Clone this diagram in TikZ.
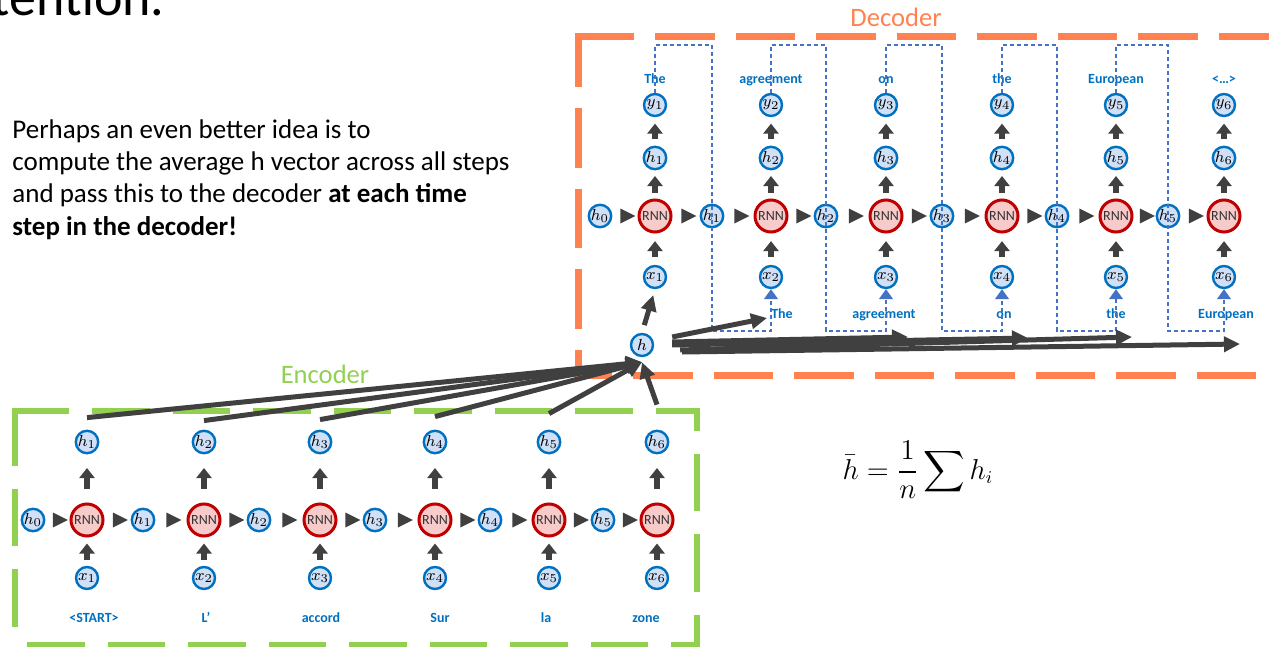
\documentclass[tikz,border=0pt]{standalone}
\usepackage{amsmath}
\usepackage{fontspec}
\setmainfont{Carlito}
\usepackage{xcolor}
\definecolor{bleuetat}{RGB}{0,112,192}
\definecolor{fondetat}{RGB}{208,224,246}
\definecolor{rougernn}{RGB}{192,0,0}
\definecolor{fondrnn}{RGB}{248,203,203}
\definecolor{grisfl}{RGB}{64,64,64}
\definecolor{orangedec}{RGB}{255,130,80}
\definecolor{vertenc}{RGB}{146,208,80}
\definecolor{bleuret}{RGB}{68,114,196}
\usepackage{tikz}
\usetikzlibrary{arrows.meta,positioning,shapes.geometric}

\begin{document}
\begin{tikzpicture}[x=0.5pt, y=-0.5pt,
      etat/.style={circle, draw=bleuetat, fill=fondetat, line width=1.2pt,
                   minimum size=11pt, inner sep=0pt, font=\fontsize{8}{9}\selectfont},
      rnn/.style={circle, draw=rougernn, fill=fondrnn, line width=1.5pt,
                  minimum size=16pt, inner sep=0pt, font=\fontsize{7}{8}\selectfont, text=black!80},
      lien/.style={-{Triangle[length=5pt,width=7.5pt]}, line width=3pt, color=grisfl,
                   shorten <=3pt, shorten >=3pt},
      pointe/.style={isosceles triangle, isosceles triangle stretches, minimum width=7.5pt,
                     minimum height=7.5pt, inner sep=0pt, fill=grisfl, sloped},
      gros/.style={-{Triangle[length=8pt,width=7.5pt]}, line width=2.5pt, color=grisfl},
      retour/.style={-{Triangle[length=5pt,width=7pt]}, dash pattern=on 2pt off 1.5pt,
                     line width=0.65pt, color=bleuret},
      mot/.style={font=\fontsize{7}{8}\selectfont\bfseries, text=bleuetat, inner sep=0pt},
      cadre/.style={line width=3.5pt, draw=orangedec, dash pattern=on 29.75pt off 10.5pt},
      cadreenc/.style={line width=3pt, draw=vertenc, dash pattern=on 28.75pt off 11.5pt},
      titreb/.style={font=\fontsize{13.3}{15}\selectfont, anchor=base}]
    \useasboundingbox (0,0) rectangle (1269,647);

    % titre et texte
    \node[anchor=base east, inner sep=0pt, font=\fontsize{27}{30}\selectfont] (titre) at (165,16) {Attention.};
    \node[anchor=north west, align=left, inner sep=0pt, font=\fontsize{13.5}{16.2}\selectfont] (texte) at (12,119)
      {Perhaps an even better idea is to\\
       compute the average h vector across all steps\\
       and pass this to the decoder \textbf{at each time}\\
       \textbf{step in the decoder!}};
    \node[font=\fontsize{13.3}{15}\selectfont] (moyenne) at (918,470) {$\displaystyle\bar{h}=\frac{1}{n}\sum h_i$};

    % cadres
    \draw[cadre] (574.5,37) -- (1300,37);
    \draw[cadre, dash phase=3pt] (578,33.5) -- (578,375);
    \draw[cadre, dash phase=11pt] (574.5,375) -- (1300,375);
    \node[titreb, text=orangedec] (dec) at (896,27) {Decoder};
    \draw[cadreenc] (11.5,411) -- (697,411);
    \draw[cadreenc] (15,408) -- (15,645);
    \draw[cadreenc, dash phase=17.5pt] (697,408) -- (697,645);
    \draw[cadreenc, dash phase=14.25pt] (700,645) -- (15,645);
    \node[titreb, text=vertenc] (enc) at (325,383) {Encoder};

    % encodeur
    \foreach \i/\x in {1/87,2/204,3/320,4/435,5/549,6/657} {
      \node[rnn]  (rnne\i) at (\x,520) {RNN};
      \node[etat] (he\i)   at (\x,442) {$h_{\i}$};
      \node[etat] (xe\i)   at (\x,578) {$x_{\i}$};
      \draw[lien] (xe\i) -- (rnne\i);
      \draw[lien, shorten <=7pt, shorten >=6.8pt] (rnne\i) -- (he\i);
    }
    \foreach \i/\x in {0/33,1/143,2/259,3/375,4/490,5/603}
      \node[etat] (hre\i) at (\x,520) {$h_{\i}$};
    \foreach \i [count=\j from 0] in {1,...,6}
      \path (hre\j) -- node[pointe] {} (rnne\i);
    \foreach \i in {1,...,5}
      \path (rnne\i) -- node[pointe] {} (hre\i);
    \foreach \i/\x/\m in {1/94/<START>,2/206/L’,3/321/accord,4/440/Sur,5/546/la,6/646/zone}
      \node[mot, anchor=base] (me\i) at (\x,622.5) {\m};

    % decodeur
    \foreach \i/\x in {1/655,2/771,3/886,4/1002,5/1116,6/1224} {
      \node[rnn]  (rnnd\i) at (\x,216) {RNN};
      \node[etat] (hd\i)   at (\x,158) {$h_{\i}$};
      \node[etat] (yd\i)   at (\x,105) {$y_{\i}$};
      \node[etat] (xd\i)   at (\x,277) {$x_{\i}$};
      \draw[lien, shorten <=3.8pt, shorten >=3.8pt] (xd\i) -- (rnnd\i);
      \draw[lien, shorten <=2.8pt, shorten >=2.8pt] (rnnd\i) -- (hd\i);
      \draw[lien, shorten <=3.2pt, shorten >=3.2pt] (hd\i) -- (yd\i);
    }
    \foreach \i/\x in {0/600,1/712,2/826,3/942,4/1057,5/1168}
      \node[etat] (hrd\i) at (\x,216) {$h_{\i}$};
    \foreach \i [count=\j from 0] in {1,...,6}
      \path (hrd\j) -- node[pointe] {} (rnnd\i);
    \foreach \i in {1,...,5}
      \path (rnnd\i) -- node[pointe] {} (hrd\i);
    \foreach \i/\m in {1/The,2/agreement,3/on,4/the,5/European,6/<…>}
      \node[mot, anchor=base] (mh\i) at (yd\i |- 0,84) {\m};
    \foreach \i/\x/\m in {2/782/The,3/884/agreement,4/1004/on,5/1116/the,6/1226/European}
      \node[mot, anchor=base] (mb\i) at (\x,318) {\m};

    % sortie -> entree suivante
    \foreach \i [count=\j from 2] in {1,...,5}
      \draw[retour] (yd\i.north) -- (yd\i |- 0,45) -| (hrd\i |- 0,331) -| (xd\j.south);

    % vecteur moyen h
    \node[etat] (h) at (642,345) {$h$};
    \foreach \i/\d in {1/6,2/4.5,3/5,4/6.5,5/8,6/12.5}
      \draw[gros] ([yshift=\d pt]he\i.north) -- ([yshift=-2.5pt]h.south);
    \draw[gros, shorten <=4pt, shorten >=3pt] (h.north) -- (xd1.south);
    \coordinate (vers2) at (767,318);
    \coordinate (vers3) at (908,337);
    \coordinate (vers4) at (1028,338);
    \coordinate (vers5) at (1132,337);
    \coordinate (vers6) at (1240,344);
    \draw[gros] ([xshift=9pt,yshift=4pt]h.east) -- (vers2);
    \draw[gros] ([xshift=9pt,yshift=1.5pt]h.east) -- (vers3);
    \draw[gros] ([xshift=9pt]h.east) -- (vers4);
    \draw[gros] ([xshift=13pt,yshift=-2.5pt]h.east) -- (vers5);
    \draw[gros] ([xshift=14pt,yshift=-3.5pt]h.east) -- (vers6);
\end{tikzpicture}
\end{document}
